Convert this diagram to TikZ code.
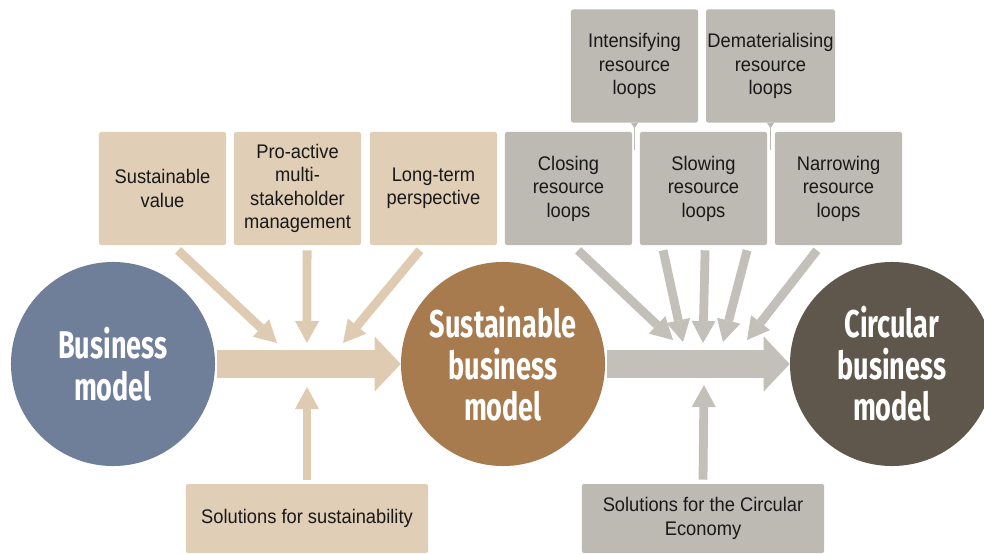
\documentclass[tikz,border=0pt]{standalone}
\usepackage{fontspec}
\setmainfont[FakeStretch=0.93]{Liberation Sans}
\newfontfamily\circfont[FakeStretch=0.7]{Fira Sans}
\usetikzlibrary{arrows.meta}
\definecolor{bmblue}{HTML}{6F7F99}
\definecolor{sbmbrown}{HTML}{A77B4E}
\definecolor{cbmdark}{HTML}{5F574C}
\definecolor{tanbox}{HTML}{E0CEB6}
\definecolor{tanarrow}{HTML}{DECBB1}
\definecolor{graybox}{HTML}{BDB9B3}
\definecolor{grayarrow}{HTML}{C3BFB9}

\begin{document}
\begin{tikzpicture}[x=0.025cm,y=-0.025cm,
  model/.style={circle,minimum size=5.1cm,inner sep=0pt,text=white,align=center,
    font=\circfont\bfseries\fontsize{27.5}{29.5}\selectfont},
  box/.style={rounded corners=1.5pt,minimum width=3.175cm,minimum height=2.825cm,
    inner sep=1pt,align=center,text=black!90,font=\fontsize{14}{16.7}\selectfont},
  widebox/.style={box,minimum width=6.05cm,minimum height=1.725cm},
  bigarrow/.style={line width=0.7cm,shorten <=0.05cm,
    -{Triangle[length=0.65cm,width=1.375cm,line width=0pt]}},
  smallarrow/.style={line width=0.22cm,-{Triangle[length=0.55cm,width=0.6cm,line width=0pt]}},
  tick/.style={draw=graybox,line width=0.6pt,{Triangle[reversed,length=4pt,width=5pt]}-}]
\useasboundingbox (0,0) rectangle (984,553);
\clip (0,0) rectangle (984,553);

% the three models
\node[model,fill=bmblue] (bm) at (113,364) {Business\\model};
\node[model,fill=sbmbrown] (sbm) at (503,364) {Sustainable\\business\\model};
\node[model,fill=cbmdark] (cbm) at (892,364) {Circular\\business\\model};

% boxes
\node[box,fill=tanbox] (sv) at (162.5,188.5) {Sustainable\\value};
\node[box,fill=tanbox] (pa) at (297.5,188.5) {Pro-active\\multi-\\stakeholder\\management};
\node[box,fill=tanbox] (lt) at (433.5,188.5) {Long-term\\perspective};
\node[box,fill=graybox] (cl) at (568.5,188.5) {Closing\\resource\\loops};
\node[box,fill=graybox] (sl) at (703.5,188.5) {Slowing\\resource\\loops};
\node[box,fill=graybox] (nr) at (838.5,188.5) {Narrowing\\resource\\loops};
\node[box,fill=graybox] (inten) at (634.5,66) {Intensifying\\resource\\loops};
\node[box,fill=graybox] (demat) at (770.5,66) {Dematerialising\\resource\\loops};
\node[widebox,fill=tanbox] (ss) at (307,518.5) {Solutions for sustainability};
\node[widebox,fill=graybox] (ce) at (703,518.5) {Solutions for the Circular\\Economy};

% arrow ends
\coordinate (t1) at (277,343);
\coordinate (t2) at (307,343);
\coordinate (t3) at (343,343);
\coordinate (t4) at (307,387);
\coordinate (g1) at (673,340);
\coordinate (g2) at (683,342);
\coordinate (g3) at (703,343);
\coordinate (g4) at (723,342);
\coordinate (g5) at (747,340);
\coordinate (g6) at (704,385);
\coordinate (k1) at (634.5,150);
\coordinate (k2) at (770.5,150);

% main arrows
\draw[bigarrow,tanarrow] (bm.east) -- (sbm.west);
\draw[bigarrow,grayarrow] (sbm.east) -- (cbm.west);

% tan arrows
\draw[smallarrow,tanarrow] ([xshift=0.39cm,yshift=-0.125cm]sv.south) -- (t1);
\draw[smallarrow,tanarrow] ([xshift=0.24cm,yshift=-0.125cm]pa.south) -- (t2);
\draw[smallarrow,tanarrow] ([xshift=-0.34cm,yshift=-0.125cm]lt.south) -- (t3);
\draw[smallarrow,tanarrow] ([yshift=0.1cm]ss.north) -- (t4);

% gray arrows
\draw[smallarrow,grayarrow] ([xshift=0.24cm,yshift=-0.125cm]cl.south) -- (g1);
\draw[smallarrow,grayarrow] ([xshift=-1.01cm,yshift=-0.125cm]sl.south) -- (g2);
\draw[smallarrow,grayarrow] ([xshift=0.04cm,yshift=-0.125cm]sl.south) -- (g3);
\draw[smallarrow,grayarrow] ([xshift=1.09cm,yshift=-0.125cm]sl.south) -- (g4);
\draw[smallarrow,grayarrow] ([xshift=-0.54cm,yshift=-0.125cm]nr.south) -- (g5);
\draw[smallarrow,grayarrow] ([yshift=0.1cm]ce.north) -- (g6);

% small ticks
\draw[tick] (inten.south) -- (k1);
\draw[tick] (demat.south) -- (k2);
\end{tikzpicture}
\end{document}
